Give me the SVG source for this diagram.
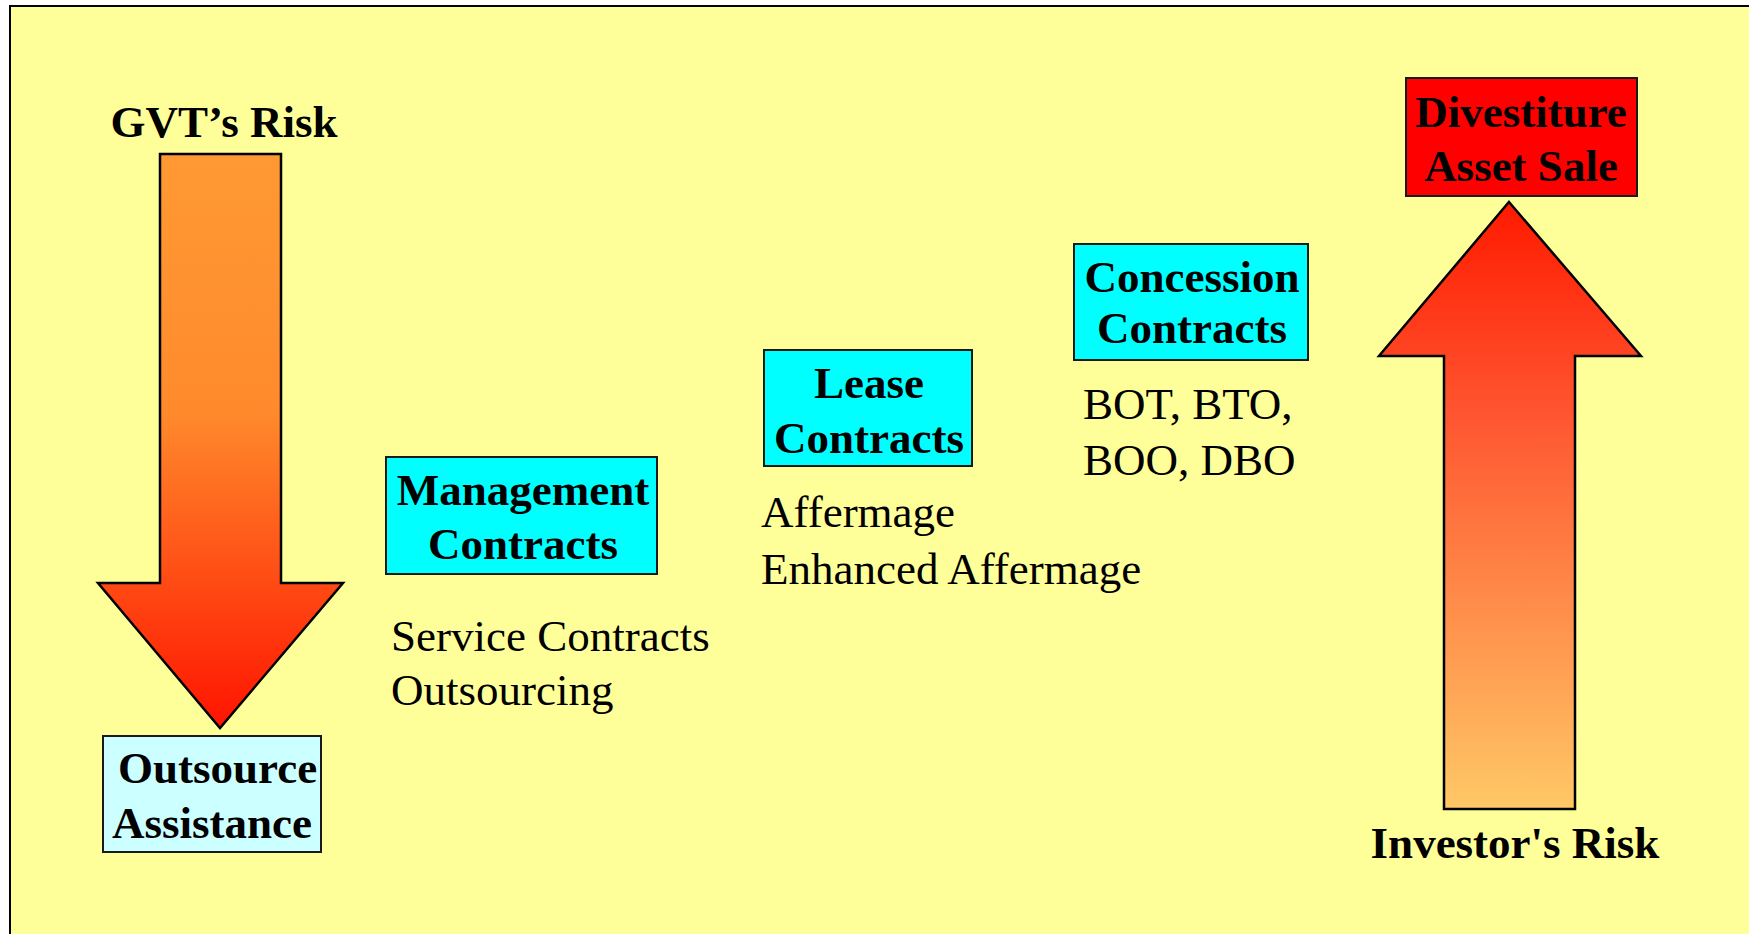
<svg xmlns="http://www.w3.org/2000/svg" width="1749" height="934" viewBox="0 0 1749 934">
  <defs>
    <linearGradient id="gradDown" x1="0" y1="0" x2="0" y2="1">
      <stop offset="0" stop-color="#FF9933"/>
      <stop offset="0.45" stop-color="#FF8A2C"/>
      <stop offset="1" stop-color="#FF1400"/>
    </linearGradient>
    <linearGradient id="gradUp" x1="0" y1="0" x2="0" y2="1">
      <stop offset="0" stop-color="#FF1A00"/>
      <stop offset="0.35" stop-color="#FF5530"/>
      <stop offset="1" stop-color="#FFC866"/>
    </linearGradient>
  </defs>
  <style>
    .frame { fill: #FFFF99; stroke: #000000; stroke-width: 2; }
    .arrow { stroke: #000000; stroke-width: 2.5; stroke-linejoin: miter; }
    .box { stroke: #1a1a1a; stroke-width: 2; }
    .bold { font-family: "Liberation Serif", "Times New Roman", serif; font-weight: bold; font-size: 45px; fill: #000000; }
    .plain { font-family: "Liberation Serif", "Times New Roman", serif; font-size: 45px; fill: #000000; }
    .mid { text-anchor: middle; }
  </style>

  <rect x="0" y="0" width="1749" height="934" fill="#FFFFFF"/>
  <rect class="frame" x="10" y="6" width="1760" height="960"/>

  <!-- government risk arrow, pointing down -->
  <g id="gvt-risk">
    <text class="bold mid" x="224" y="137">GVT’s Risk</text>
    <path class="arrow" fill="url(#gradDown)" d="M160,154 L281,154 L281,583 L343,583 L220,728 L98,583 L160,583 Z"/>
  </g>

  <g id="outsource-assistance">
    <rect class="box" x="103" y="736" width="218" height="116" fill="#CCFFFF"/>
    <text class="bold" x="118" y="783">Outsource</text>
    <text class="bold" x="112" y="838">Assistance</text>
  </g>

  <g id="management-contracts">
    <rect class="box" x="386" y="457" width="271" height="117" fill="#00FFFF"/>
    <text class="bold mid" x="523" y="505">Management</text>
    <text class="bold mid" x="523" y="559">Contracts</text>
    <text class="plain" x="391" y="651">Service Contracts</text>
    <text class="plain" x="391" y="705">Outsourcing</text>
  </g>

  <g id="lease-contracts">
    <rect class="box" x="764" y="350" width="208" height="116" fill="#00FFFF"/>
    <text class="bold mid" x="869" y="398">Lease</text>
    <text class="bold mid" x="869" y="453">Contracts</text>
    <text class="plain" x="761" y="527">Affermage</text>
    <text class="plain" x="761" y="584">Enhanced Affermage</text>
  </g>

  <g id="concession-contracts">
    <rect class="box" x="1074" y="244" width="234" height="116" fill="#00FFFF"/>
    <text class="bold mid" x="1192" y="292">Concession</text>
    <text class="bold mid" x="1192" y="343">Contracts</text>
    <text class="plain" x="1083" y="419">BOT, BTO,</text>
    <text class="plain" x="1083" y="475">BOO, DBO</text>
  </g>

  <g id="divestiture">
    <rect class="box" x="1406" y="78" width="231" height="118" fill="#FF0000"/>
    <text class="bold mid" x="1521" y="127">Divestiture</text>
    <text class="bold mid" x="1521" y="181">Asset Sale</text>
  </g>

  <!-- investor risk arrow, pointing up -->
  <g id="investor-risk">
    <path class="arrow" fill="url(#gradUp)" d="M1509,202 L1641,356 L1575,356 L1575,809 L1444,809 L1444,356 L1379,356 Z"/>
    <text class="bold mid" x="1515" y="858">Investor's Risk</text>
  </g>
</svg>
